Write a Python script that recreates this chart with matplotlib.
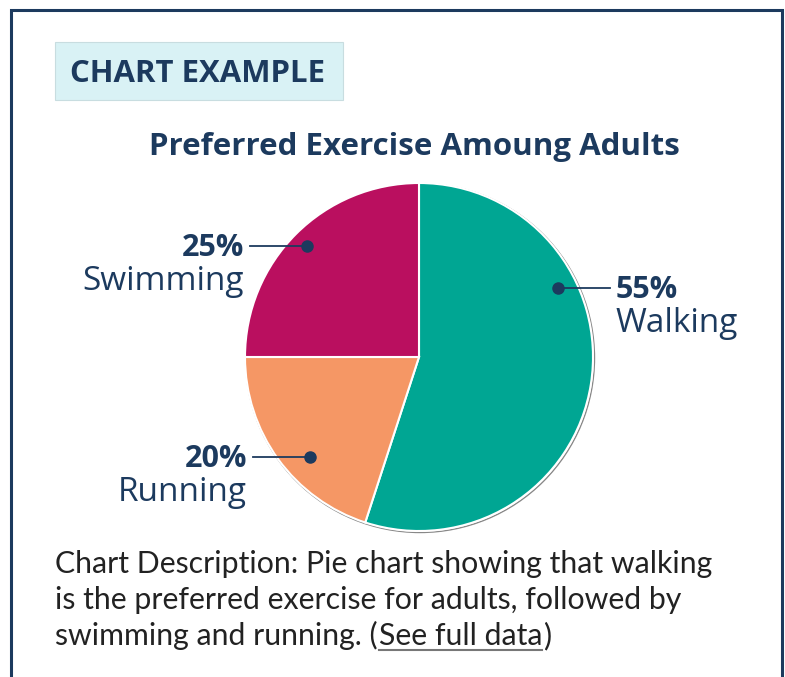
import matplotlib
matplotlib.use("Agg")
import matplotlib.pyplot as plt
from matplotlib.patches import Rectangle, Circle

# data
categories = ["Walking", "Running", "Swimming"]
shares = [55, 20, 25]
colors = ["#00a693", "#f59765", "#ba0f5f"]

title = "Preferred Exercise Amoung Adults"
badge = "CHART EXAMPLE"
desc_lines = ["Chart Description: Pie chart showing that walking",
              "is the preferred exercise for adults, followed by",
              "swimming and running. ("]
link_text = "See full data"

NAVY = "#1c3a5e"
W, H = 785, 677
DESC_FONT = "Lato"
DESC_SIZE = 21.8


def Y(y):
    return H - y


fig = plt.figure(figsize=(W / 100, H / 100), dpi=100)
ax = fig.add_axes([0, 0, 1, 1])

# outer frame
ax.add_patch(Rectangle((11, Y(700)), 771, 690, fill=False, edgecolor=NAVY, lw=2.2))

# badge
ax.add_patch(Rectangle((55, Y(100)), 288, 58, facecolor="#d9f2f5", edgecolor="#c8dde0", lw=0.8))
ax.text(70, Y(82), badge, fontsize=22.4, fontweight="bold", color=NAVY,
        family="Open Sans", va="baseline", ha="left")

ax.text(414, Y(155), title, fontsize=22.5, fontweight="bold", color=NAVY,
        family="Open Sans", va="baseline", ha="center")

# pie
cx, cy, r = 419, Y(357), 174
ax.add_patch(Circle((cx + 1, cy - 1), r + 0.5, facecolor="none", edgecolor="#888888", lw=1))
ax.pie(shares, colors=colors, startangle=90, counterclock=False,
       center=(cx, cy), radius=r, frame=True,
       wedgeprops=dict(edgecolor="white", linewidth=1.5))

# callouts: (dot x, dot y, line end x, text x, ha)
callouts = {
    "Swimming": (307, 246, 250, 244, "right"),
    "Running": (310, 457, 253, 247, "right"),
    "Walking": (558, 288, 610, 616, "left"),
}
for name, pct in zip(categories, shares):
    dx, dy, lx, tx, ha = callouts[name]
    ax.plot([dx, lx], [Y(dy), Y(dy)], color=NAVY, lw=1.3)
    ax.plot(dx, Y(dy), "o", color=NAVY, ms=8)
    ax.text(tx, Y(dy + 10), f"{pct}%", fontsize=22, fontweight="bold", color=NAVY,
            family="Open Sans", ha=ha, va="baseline")
    ax.text(tx, Y(dy + 44), name, fontsize=24, color=NAVY,
            family="Open Sans", ha=ha, va="baseline")

ax.set_xlim(0, W)
ax.set_ylim(0, H)
ax.set_aspect("auto")
ax.axis("off")

# description
for i, line in enumerate(desc_lines):
    t = ax.text(55, Y(573 + 36 * i), line, fontsize=DESC_SIZE, color="#222222",
                family=DESC_FONT, ha="left", va="baseline")

fig.canvas.draw()
rend = fig.canvas.get_renderer()
inv = ax.transData.inverted()
bb = t.get_window_extent(rend)
x0 = inv.transform((bb.x1, bb.y0))[0] + 1
lk = ax.text(x0, Y(645), link_text, fontsize=DESC_SIZE, color="#222222",
             family=DESC_FONT, ha="left", va="baseline")
bb2 = lk.get_window_extent(rend)
x1 = inv.transform((bb2.x1, bb2.y0))[0]
ax.plot([x0, x1], [Y(650), Y(650)], color="#777777", lw=1.5)
ax.text(x1 + 1, Y(645), ")", fontsize=DESC_SIZE, color="#222222",
        family=DESC_FONT, ha="left", va="baseline")

fig.savefig("out.png", dpi=100)
